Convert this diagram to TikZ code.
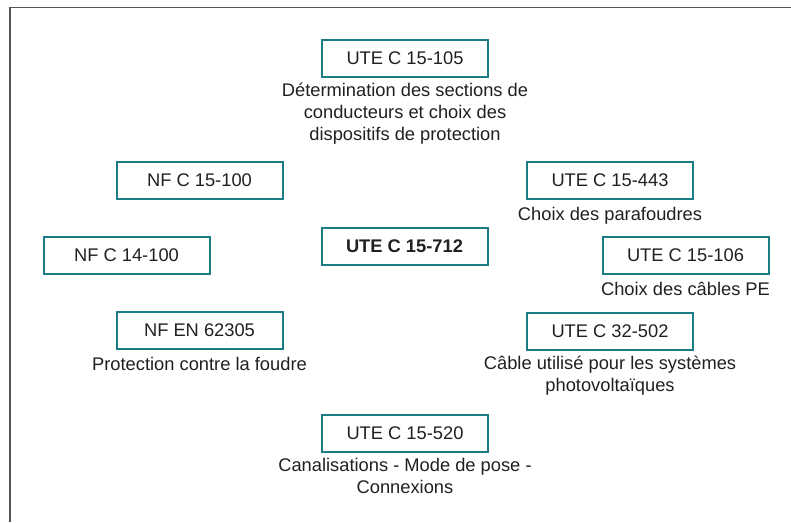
\documentclass[tikz,border=0pt]{standalone}
\usepackage{fontspec}
\setmainfont{Liberation Sans}
\usetikzlibrary{positioning}
\definecolor{normteal}{RGB}{28,124,134}
\definecolor{normtext}{RGB}{35,31,32}
\definecolor{framegray}{RGB}{85,85,85}

\begin{document}
\begin{tikzpicture}[x=1pt,y=-1pt,
        normbox/.style={draw=normteal,line width=2pt,fill=white,minimum width=166pt,minimum height=37pt,inner sep=0pt,text=normtext},
        normnote/.style={align=center,inner sep=0pt,text=normtext,execute at begin node={\strut},below=5pt of #1},
        every node/.style={font=\fontsize{18.3}{22}\selectfont}
      ]
        \useasboundingbox (0,0) rectangle (791,522);
        \draw[framegray,line width=1.5pt] (10,522) -- (10,7.5) -- (791,7.5);

        \node[normbox] (c105) at (405,58) {UTE C 15-105};
        \node[normbox] (c100) at (199.5,180) {NF C 15-100};
        \node[normbox] (c443) at (610,180) {UTE C 15-443};
        \node[normbox] (c712) at (404.5,246) {\bfseries UTE C 15-712};
        \node[normbox] (c14) at (126.5,255) {NF C 14-100};
        \node[normbox] (c106) at (685.5,255.5) {UTE C 15-106};
        \node[normbox] (c62305) at (199.5,330.5) {NF EN 62305};
        \node[normbox] (c32) at (610,331.5) {UTE C 32-502};
        \node[normbox] (c520) at (405,433.5) {UTE C 15-520};

        % descriptions under the boxes
        \node[normnote=c105] (l105) {Détermination des sections de\\conducteurs et choix des\\dispositifs de protection};
        \node[normnote=c443] (l443) {Choix des parafoudres};
        \node[normnote=c106] (l106) {Choix des câbles PE};
        \node[normnote=c62305] (l62305) {Protection contre la foudre};
        \node[normnote=c32] (l32) {Câble utilisé pour les systèmes\\photovoltaïques};
        \node[normnote=c520] (l520) {Canalisations - Mode de pose -\\Connexions};
      \end{tikzpicture}
\end{document}
